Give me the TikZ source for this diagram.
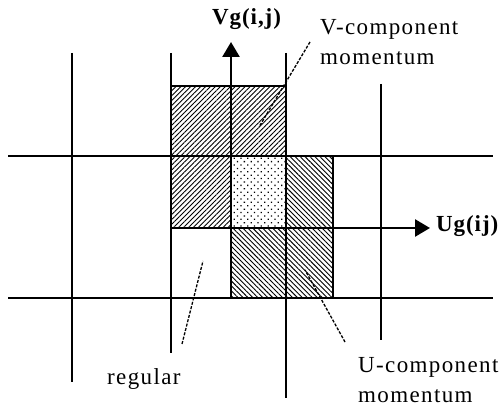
\documentclass[tikz,border=0pt]{standalone}
\usepackage{fontspec}
\setmainfont{Liberation Serif}
\usetikzlibrary{patterns.meta,arrows.meta}

\tikzset{
  gridline/.style={line width=1.4pt},
  vhatch/.style={pattern={Lines[angle=45,distance=3.5pt,line width=0.9pt]}},
  uhatch/.style={pattern={Lines[angle=-45,distance=3.5pt,line width=0.9pt]}},
  dotfill/.style={pattern={Dots[angle=45,distance=4.8pt,radius=0.9pt]}},
  gaxis/.style={line width=2.6pt,-{Triangle[length=15pt,width=17pt]}},
  leader/.style={line width=1.3pt,dash pattern=on 3pt off 1.5pt},
  celltext/.style={inner sep=0pt,anchor=base west,align=left,font=\fontsize{23}{30}\selectfont\addfontfeatures{LetterSpace=6}},
  axistext/.style={inner sep=0pt,anchor=base west,font=\fontsize{23}{28}\selectfont\bfseries\addfontfeatures{LetterSpace=4}}
}

\begin{document}
\begin{tikzpicture}[x=1pt,y=1pt]
	\useasboundingbox (0,0) rectangle (502,406);
	% Cells of the staggered grid:
	\fill[vhatch] (171,178) rectangle (286,320);
	\fill[uhatch] (231,108) rectangle (333,250);
	\fill[white] (231,178) rectangle (286,250);
	\fill[dotfill] (231,178) rectangle (286,250);
	% Grid lines:
	\draw[gridline] (72,353) -- (72,24);
	\draw[gridline] (171,353) -- (171,53);
	\draw[gridline] (286,353) -- (286,8);
	\draw[gridline] (381,322) -- (381,66);
	\draw[gridline] (8,250) -- (493,250);
	\draw[gridline] (8,108) -- (493,108);
	\draw[gridline] (171,178) rectangle (286,320);
	\draw[gridline] (231,108) rectangle (333,250);
	% Axes and labels:
	\coordinate (orig) at (231,178);
	\node[axistext] (vg) at (212,381) {Vg(i,j)};
	\node[axistext] (ug) at (436,174) {Ug(ij)};
	\draw[gaxis] (orig) -- (231,364) coordinate (vtip);
	\draw[gaxis] (orig) -- (430,178) coordinate (utip);
	% Leaders and texts:
	\node[celltext] (vtext) at (320,341) {V-component\\momentum};
	\node[celltext] (utext) at (358,4) {U-component\\momentum};
	\node[celltext] (regtext) at (107,21) {regular};
	\coordinate (vend) at (310,364);
	\coordinate (vcell) at (259,279);
	\coordinate (regend) at (182,62);
	\coordinate (regcell) at (203,145);
	\coordinate (uend) at (345,64);
	\coordinate (ucell) at (305,136);
	\draw[leader] (vend) -- (vcell);
	\draw[leader] (regend) -- (regcell);
	\draw[leader] (uend) -- (ucell);
\end{tikzpicture}
\end{document}
